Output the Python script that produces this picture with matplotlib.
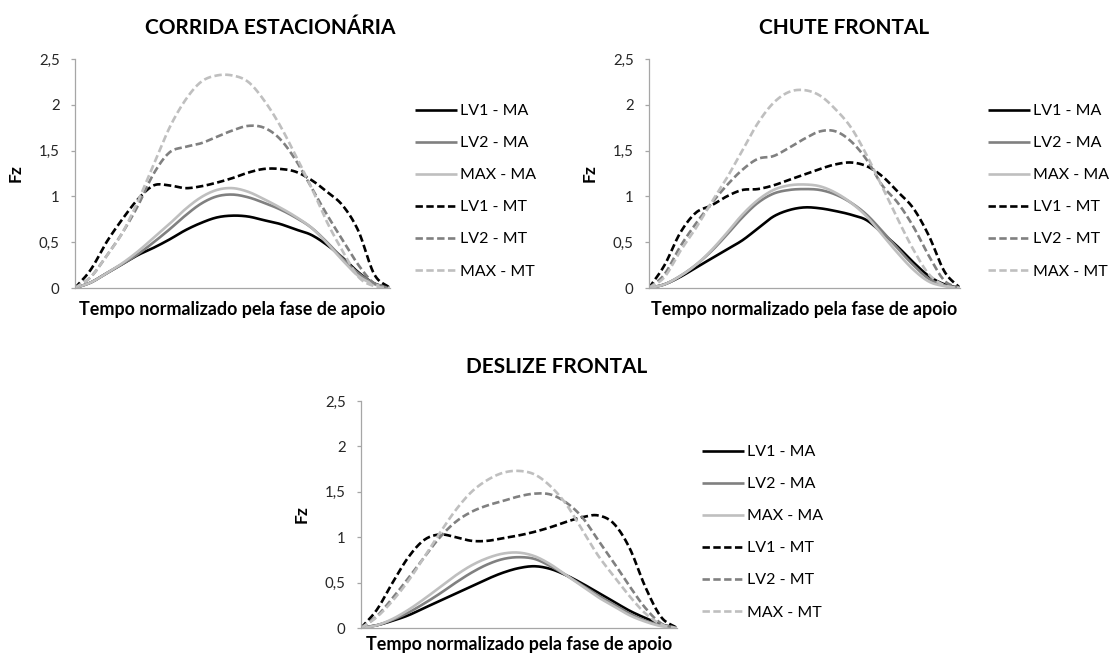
import numpy as np
import matplotlib.pyplot as plt
from matplotlib.ticker import FuncFormatter

plt.rcParams['font.family'] = ['Lato', 'DejaVu Sans']

# tempo normalizado (% da fase de apoio)
tempo = np.arange(0, 101, 5)

series_labels = ['LV1 - MA', 'LV2 - MA', 'MAX - MA', 'LV1 - MT', 'LV2 - MT', 'MAX - MT']
series_colors = ['#000000', '#808080', '#bfbfbf', '#000000', '#808080', '#bfbfbf']
series_dashed = [False, False, False, True, True, True]

# Fz - corrida estacionária
corrida_lv1_ma = [0, 0.06, 0.16, 0.26, 0.36, 0.44, 0.53, 0.63, 0.71, 0.77, 0.79,
                  0.78, 0.74, 0.70, 0.64, 0.58, 0.47, 0.33, 0.17, 0.05, 0]
corrida_lv2_ma = [0, 0.06, 0.16, 0.26, 0.37, 0.50, 0.64, 0.79, 0.92, 1.00, 1.02,
                  0.99, 0.93, 0.86, 0.77, 0.66, 0.50, 0.32, 0.16, 0.05, 0]
corrida_max_ma = [0, 0.06, 0.16, 0.27, 0.40, 0.55, 0.70, 0.86, 0.99, 1.07, 1.09,
                  1.05, 0.97, 0.88, 0.78, 0.66, 0.49, 0.30, 0.13, 0.04, 0]
corrida_lv1_mt = [0, 0.20, 0.50, 0.75, 0.97, 1.12, 1.12, 1.09, 1.11, 1.15, 1.20,
                  1.26, 1.30, 1.30, 1.27, 1.18, 1.05, 0.90, 0.62, 0.15, 0]
corrida_lv2_mt = [0, 0.12, 0.35, 0.60, 0.90, 1.25, 1.48, 1.54, 1.58, 1.65, 1.72,
                  1.77, 1.75, 1.63, 1.40, 1.10, 0.80, 0.52, 0.25, 0.05, 0]
corrida_max_mt = [0, 0.12, 0.35, 0.60, 0.95, 1.35, 1.75, 2.05, 2.25, 2.32, 2.32,
                  2.25, 2.05, 1.78, 1.45, 1.10, 0.72, 0.40, 0.12, 0.02, 0]

# Fz - chute frontal
chute_lv1_ma = [0, 0.04, 0.12, 0.22, 0.32, 0.42, 0.52, 0.65, 0.78, 0.85, 0.88,
                0.87, 0.84, 0.80, 0.74, 0.60, 0.45, 0.28, 0.13, 0.04, 0]
chute_lv2_ma = [0, 0.04, 0.13, 0.25, 0.40, 0.58, 0.77, 0.93, 1.03, 1.07, 1.08,
                1.07, 1.02, 0.93, 0.80, 0.62, 0.43, 0.25, 0.10, 0.03, 0]
chute_max_ma = [0, 0.04, 0.13, 0.25, 0.41, 0.60, 0.80, 0.96, 1.07, 1.12, 1.13,
                1.11, 1.04, 0.93, 0.78, 0.58, 0.38, 0.20, 0.07, 0.02, 0]
chute_lv1_mt = [0, 0.25, 0.60, 0.82, 0.90, 1.00, 1.07, 1.08, 1.12, 1.18, 1.24,
                1.30, 1.35, 1.37, 1.33, 1.22, 1.05, 0.87, 0.57, 0.18, 0]
chute_lv2_mt = [0, 0.15, 0.45, 0.70, 0.92, 1.12, 1.29, 1.41, 1.44, 1.53, 1.63,
                1.71, 1.71, 1.60, 1.40, 1.12, 0.93, 0.67, 0.35, 0.08, 0]
chute_max_mt = [0, 0.12, 0.40, 0.65, 0.93, 1.20, 1.50, 1.80, 2.02, 2.14, 2.16,
                2.10, 1.95, 1.75, 1.45, 1.10, 0.75, 0.42, 0.15, 0.03, 0]

# Fz - deslize frontal
deslize_lv1_ma = [0, 0.03, 0.08, 0.14, 0.22, 0.30, 0.38, 0.46, 0.54, 0.61, 0.66,
                  0.68, 0.65, 0.58, 0.49, 0.39, 0.29, 0.19, 0.11, 0.04, 0]
deslize_lv2_ma = [0, 0.03, 0.09, 0.17, 0.27, 0.38, 0.50, 0.61, 0.70, 0.76, 0.78,
                  0.76, 0.68, 0.58, 0.47, 0.36, 0.26, 0.16, 0.08, 0.03, 0]
deslize_max_ma = [0, 0.03, 0.10, 0.20, 0.32, 0.45, 0.58, 0.69, 0.77, 0.82, 0.83,
                  0.79, 0.70, 0.58, 0.46, 0.34, 0.24, 0.14, 0.07, 0.02, 0]
deslize_lv1_mt = [0, 0.20, 0.50, 0.78, 0.97, 1.03, 1.00, 0.96, 0.96, 0.99, 1.02,
                  1.06, 1.11, 1.17, 1.22, 1.24, 1.15, 0.88, 0.45, 0.12, 0]
deslize_lv2_mt = [0, 0.13, 0.33, 0.55, 0.78, 1.00, 1.17, 1.28, 1.35, 1.40, 1.45,
                  1.48, 1.47, 1.38, 1.22, 0.97, 0.72, 0.46, 0.22, 0.05, 0]
deslize_max_mt = [0, 0.12, 0.30, 0.52, 0.78, 1.05, 1.30, 1.50, 1.63, 1.71, 1.73,
                  1.69, 1.56, 1.36, 1.08, 0.80, 0.57, 0.35, 0.16, 0.04, 0]

panels = [
    ('CORRIDA ESTACIONÁRIA', [corrida_lv1_ma, corrida_lv2_ma, corrida_max_ma,
                              corrida_lv1_mt, corrida_lv2_mt, corrida_max_mt]),
    ('CHUTE FRONTAL', [chute_lv1_ma, chute_lv2_ma, chute_max_ma,
                       chute_lv1_mt, chute_lv2_mt, chute_max_mt]),
    ('DESLIZE FRONTAL', [deslize_lv1_ma, deslize_lv2_ma, deslize_max_ma,
                         deslize_lv1_mt, deslize_lv2_mt, deslize_max_mt]),
]


def smooth(x, y, n=12):
    """Catmull-Rom curve through the points, like a smoothed line in a spreadsheet."""
    x = np.asarray(x, float)
    y = np.asarray(y, float)
    px = np.concatenate([[2 * x[0] - x[1]], x, [2 * x[-1] - x[-2]]])
    py = np.concatenate([[2 * y[0] - y[1]], y, [2 * y[-1] - y[-2]]])
    t = np.linspace(0, 1, n, endpoint=False)
    xs, ys = [], []
    for i in range(1, len(px) - 2):
        for p, out in ((px, xs), (py, ys)):
            p0, p1, p2, p3 = p[i - 1], p[i], p[i + 1], p[i + 2]
            out.append(0.5 * (2 * p1 + (-p0 + p2) * t
                              + (2 * p0 - 5 * p1 + 4 * p2 - p3) * t ** 2
                              + (-p0 + 3 * p1 - 3 * p2 + p3) * t ** 3))
    xs.append([x[-1]])
    ys.append([y[-1]])
    return np.concatenate(xs), np.concatenate(ys)


W, H = 1112, 657
fig = plt.figure(figsize=(W / 100, H / 100), dpi=100)


def px_axes(left, top, right, bottom):
    return fig.add_axes([left / W, 1 - bottom / H, (right - left) / W, (bottom - top) / H])


# axes boxes in pixels: left, top, right, bottom
boxes = [(75, 59, 390, 288), (649, 59, 960, 288), (361, 401, 677, 628)]
legend_pos = [(415, 104), (988, 104), (702, 445)]
title_pos = [(270, 28), (844, 28), (557, 367)]
xlabel_pad = [9, 9, 6]

fmt = FuncFormatter(lambda v, _: ('%g' % v).replace('.', ','))

for (title, data), box, lpos, tpos, xpad in zip(panels, boxes, legend_pos, title_pos, xlabel_pad):
    ax = px_axes(*box)
    for vals, lab, col, dashed in zip(data, series_labels, series_colors, series_dashed):
        sx, sy = smooth(tempo, vals)
        ls = (0, (2.8, 1.3)) if dashed else '-'
        ax.plot(sx, sy, color=col, lw=1.9, ls=ls, label=lab, solid_capstyle='butt')

    ax.set_xlim(0, 100)
    ax.set_ylim(0, 2.5)
    ax.set_yticks(np.arange(0, 2.51, 0.5))
    ax.yaxis.set_major_formatter(fmt)
    ax.set_xticks([])
    for side in ('top', 'right'):
        ax.spines[side].set_visible(False)
    for side in ('left', 'bottom'):
        ax.spines[side].set_color('#a6a6a6')
        ax.spines[side].set_linewidth(0.9)
    ax.tick_params(axis='y', length=3, width=0.9, color='#a6a6a6',
                   labelsize=10.8, labelcolor='#262626', pad=8)
    ax.set_ylabel('Fz', fontsize=12.5, fontweight='bold', labelpad=11)
    ax.set_xlabel('Tempo normalizado pela fase de apoio', fontsize=12.9,
                  fontweight='bold', labelpad=xpad)

    fig.text(tpos[0] / W, 1 - tpos[1] / H, title, ha='center', va='center',
             fontsize=15, fontweight='bold')

    ax.legend(loc='upper left', bbox_to_anchor=(lpos[0] / W, 1 - lpos[1] / H),
              bbox_transform=fig.transFigure, frameon=False, fontsize=11.5,
              handlelength=2.6, handletextpad=0.2, labelspacing=1.12,
              borderpad=0, borderaxespad=0)

fig.savefig('out.png', dpi=100)
